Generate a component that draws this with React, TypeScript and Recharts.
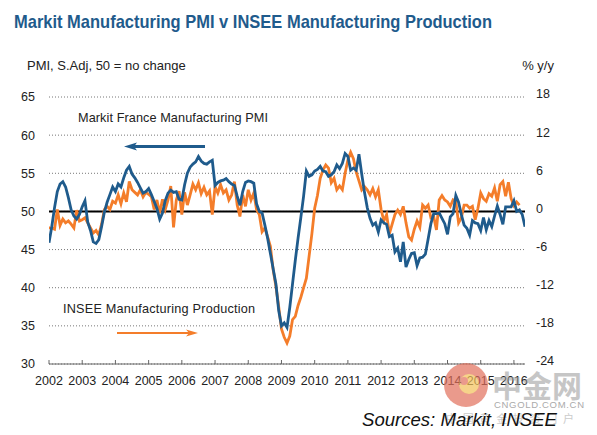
import React from 'react';
import { LineChart, Line, XAxis, YAxis, CartesianGrid, ReferenceLine } from 'recharts';

// monthly points, first point sits on 2002.0
const startYear = 2002;
const yearTicks = [2002, 2003, 2004, 2005, 2006, 2007, 2008, 2009, 2010, 2011, 2012, 2013, 2014, 2015, 2016];
const pmiTicks = [30, 35, 40, 45, 50, 55, 60, 65];
const prodTicks = [-24, -18, -12, -6, 0, 6, 12, 18];

// Markit France Manufacturing PMI (left axis)
const pmi = [
  45.9, 48.0, 50.5, 52.6, 53.6, 53.9, 53.2, 51.8, 50.2, 49.4, 49.0, 49.6,
  50.6, 51.4, 48.6, 47.5, 46.0, 45.8, 46.3, 48.0, 49.9, 51.2, 52.2, 53.2,
  52.6, 53.6, 53.2, 54.4, 55.4, 55.9, 54.9, 54.4, 53.8, 53.1, 52.4, 52.6,
  53.0, 52.2, 51.3, 50.4, 49.0, 49.8, 51.4, 52.4, 52.8, 52.5, 52.6, 51.6,
  51.5, 53.5, 55.0, 55.8, 56.2, 56.5, 57.2, 56.6, 56.3, 56.2, 56.5, 56.7,
  53.4, 53.8, 54.0, 54.1, 54.3, 53.9, 53.6, 53.4, 52.0, 50.8, 52.6, 53.8,
  54.0, 53.9, 53.7, 51.0, 50.0, 49.8, 48.2, 46.5, 44.5, 42.5, 40.5, 37.0,
  35.0, 35.4, 34.8, 37.4, 40.5, 43.6, 46.5, 49.2, 52.0, 55.3, 54.6, 54.8,
  55.3, 55.5, 55.9, 55.3, 55.2, 54.6, 54.8, 55.2, 56.1, 55.6, 56.3, 57.6,
  57.2, 55.4, 55.7, 55.4, 57.5, 54.9, 52.5, 50.5, 49.1, 48.2, 48.5, 47.3,
  48.9, 48.5, 48.3, 46.7, 46.9, 44.7, 45.2, 43.4, 46.0, 42.7, 43.7, 44.5,
  44.6, 42.9, 43.9, 44.0, 44.4, 46.4, 48.4, 49.7, 49.7, 49.8, 49.1, 48.4,
  47.0, 49.3, 49.7, 52.1, 51.2, 49.6, 48.2, 47.8, 46.9, 48.8, 48.5, 48.4,
  47.5, 49.2, 47.6, 48.8, 48.0, 49.4, 50.7, 49.6, 48.3, 50.6, 50.6, 50.6,
  51.4, 50.0, 50.2, 49.6, 48.0,
];

// INSEE Manufacturing Production, % y/y (right axis)
const insee = [
  -2.6, -2.6, -2.8, 0.3, -2.2, -1.2, -1.8, -1.5, -2.0, -2.6, 0.2, -1.5,
  -1.3, -1.0, -1.8, -2.6, -3.4, -3.0, -3.7, -2.0, 0.3, 0.8, 0.3, 1.6,
  1.3, 2.6, 1.2, 2.9, 1.5, 4.7, 3.4, 3.0, 2.6, 3.4, 2.3, 3.0,
  2.7, 2.3, 0.3, 1.8, -0.3, 1.9, 0.3, 1.8, 4.0, -2.5, 1.8, 3.2,
  -0.5, 3.0, 1.0, 2.6, 4.3, 3.4, 4.5, 2.8, 3.8, 2.6, 3.2, -0.5,
  3.9, 2.9, 4.2, 2.9, 3.4, 1.8, 2.6, 4.7, 1.0, -0.8, 2.6, 0.8,
  3.4, 1.8, 2.9, 0.3, -0.5, -3.2, -2.6, -4.0, -5.5, -9.2, -11.8, -15.0,
  -18.5, -19.8, -20.7, -19.6, -17.0, -16.5, -14.8, -13.5, -12.0, -10.5, -7.0, -3.5,
  0.5, 2.5, 5.2, 6.5, 7.3, 6.8, 4.5, 5.2, 3.4, 4.0, 3.4, 6.0,
  8.1, 9.3, 8.3, 6.2, 4.8, 3.4, 3.9, 3.4, 2.6, 3.6, 2.3, 3.4,
  0.3, -1.5, -0.5, -3.5, -2.0, -0.5, 0.2, -0.5, 0.8, -1.8, -4.0, -4.5,
  -2.8, -1.5, -2.5, 1.0, 0.5, 1.0, -1.0, -0.8, -2.9, 1.8, 2.5, 1.8,
  1.5, 0.8, 1.8, 1.5, -1.8, -1.0, 1.0, 1.0, 0.5, 0.8, -1.3, 0.5,
  2.9, 2.0, 1.6, 2.8, 2.4, 3.7, 1.6, 4.2, 4.7, 2.4, 4.6, 2.0,
  0.9, 1.5, 1.0,
];

const data = pmi.map((v, i) => ({
  t: startYear + i / 12,
  pmi: v,
  insee: i < insee.length ? insee[i] : null,
}));

const BLUE = '#1f5b8c';
const ORANGE = '#f47d2a';
const FONT = '"Liberation Sans", Arial, sans-serif';
const tickStyle = { fontSize: 12.5, fill: '#222', fontFamily: FONT };

export default function App() {
  return (
    <div style={{ position: 'absolute', left: 0, top: 0, width: 597, height: 435, background: '#fff' }}>
      <LineChart width={597} height={435} data={data} margin={{ top: 97, right: 20, bottom: 40, left: 0 }}>
        <CartesianGrid yAxisId="left" vertical={false} stroke="#777" strokeDasharray="1 2" />
        <XAxis
          dataKey="t"
          type="number"
          domain={[startYear, startYear + (pmi.length - 1) / 12]}
          ticks={yearTicks}
          allowDataOverflow
          height={31}
          tickSize={-4}
          tickMargin={16}
          stroke="#666"
          tick={tickStyle}
          interval={0}
        />
        <YAxis
          yAxisId="left"
          domain={[30, 65]}
          ticks={pmiTicks}
          width={49}
          axisLine={false}
          tickLine={false}
          tickSize={0}
          tickMargin={14}
          tick={tickStyle}
          interval={0}
        />
        <YAxis
          yAxisId="right"
          orientation="right"
          domain={[-24, 18]}
          ticks={prodTicks}
          width={52}
          axisLine={false}
          tickLine={false}
          tickSize={0}
          tickMargin={11}
          tick={{ ...tickStyle, textAnchor: 'start', dy: -3 }}
          interval={0}
        />
        <ReferenceLine yAxisId="left" y={50} stroke="#000" strokeWidth={2} />
        <Line yAxisId="right" dataKey="insee" stroke={ORANGE} strokeWidth={2.8} dot={false} isAnimationActive={false} />
        <Line yAxisId="left" dataKey="pmi" stroke={BLUE} strokeWidth={2.8} dot={false} isAnimationActive={false} />
      </LineChart>

      <svg width={597} height={435} style={{ position: 'absolute', left: 0, top: 0, pointerEvents: 'none' }}>
        <text x={14} y={28} fontFamily={'"Liberation Sans Narrow", "Arial Narrow", "Liberation Sans", sans-serif'}
          fontWeight="bold" fontSize={18.5} fill={BLUE} textLength={478} lengthAdjust="spacingAndGlyphs">
          Markit Manufacturing PMI v INSEE Manufacturing Production
        </text>
        <text x={27} y={70} fontFamily={FONT} fontSize={13} fill="#222">PMI, S.Adj, 50 = no change</text>
        <text x={554} y={70} fontFamily={FONT} fontSize={13} fill="#222" textAnchor="end">% y/y</text>

        <text x={78} y={122} fontFamily={FONT} fontSize={12.7} fill="#222" textLength={190} lengthAdjust="spacing">
          Markit France Manufacturing PMI
        </text>
        <line x1={205} y1={146.5} x2={132} y2={146.5} stroke={BLUE} strokeWidth={3} />
        <polygon points="124,146.5 137,142.5 134,146.5 137,150.5" fill={BLUE} />

        <text x={63} y={313} fontFamily={FONT} fontSize={12.7} fill="#222" textLength={192} lengthAdjust="spacing">
          INSEE Manufacturing Production
        </text>
        <line x1={117} y1={333} x2={190} y2={333} stroke={ORANGE} strokeWidth={2.2} />
        <polygon points="198,333 186,329.5 189,333 186,336.5" fill={ORANGE} />

        <g opacity={0.7}>
          <circle cx={466} cy={385} r={22} fill="#e2705c" />
          <circle cx={469} cy={384} r={10} fill="#f3c15a" />
          <circle cx={464} cy={381} r={4} fill="#e2705c" />
        </g>
        <text x={492} y={397} fontFamily='"Noto Sans CJK SC", sans-serif' fontWeight="bold" fontSize={30}
          fill="#999" opacity={0.55}>中金网</text>
        <text x={494} y={408} fontFamily={FONT} fontSize={9.5} fill="#aaa" textLength={90} lengthAdjust="spacing">CNGOLD.COM.CN</text>
        <text x={446} y={423} fontFamily='"Noto Sans CJK SC", sans-serif' fontSize={11} fill="#ccc"
          textLength={128} lengthAdjust="spacing">中国黄金投资门户</text>

        <text x={362} y={426} fontFamily={FONT} fontStyle="italic" fontSize={18.5} fill="#111"
          textLength={195} lengthAdjust="spacingAndGlyphs">Sources: Markit, INSEE</text>
      </svg>
    </div>
  );
}
